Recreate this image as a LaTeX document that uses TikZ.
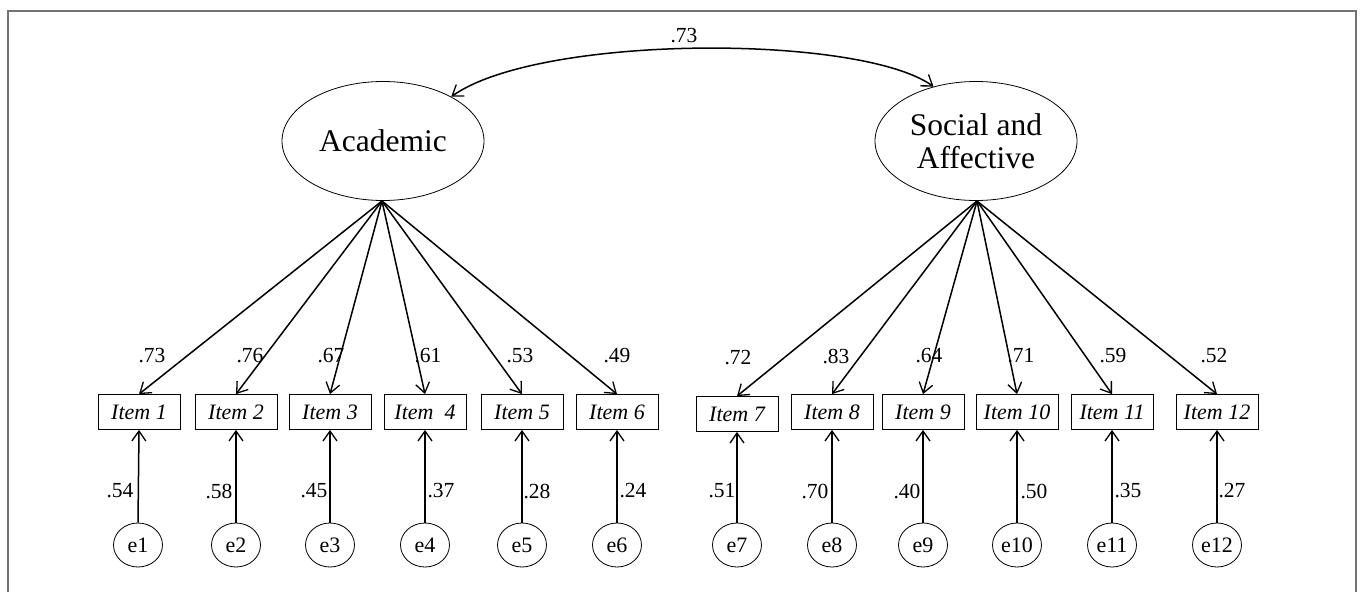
\documentclass[tikz,border=0pt]{standalone}
\usepackage{fontspec}
\setmainfont{Liberation Serif}
\usetikzlibrary{arrows.meta,shapes.geometric}
\tikzset{
  latent/.style={draw,ellipse,line width=0.8pt,minimum width=202pt,minimum height=119pt,inner sep=0pt,font=\fontsize{31.5}{33}\selectfont,align=center},
  itembox/.style={draw,rectangle,line width=0.8pt,minimum width=82pt,minimum height=35pt,inner sep=0pt,font=\fontsize{22}{24}\selectfont\itshape},
  errc/.style={draw,ellipse,line width=0.8pt,minimum width=49pt,minimum height=44pt,inner sep=0pt,font=\fontsize{22}{24}\selectfont},
  path/.style={line width=1.5pt,-{Straight Barb[length=10pt,width=14pt,line width=1.3pt]}},
  lab/.style={font=\fontsize{21.5}{24}\selectfont,inner sep=0pt},
  frame/.style={draw=black!55,line width=1.5pt}
}
\begin{document}
\begin{tikzpicture}[x=1pt,y=-1pt]
\useasboundingbox (0,0) rectangle (1360,592);
\draw[frame] (8,592) -- (8,11) -- (1356,11) -- (1356,592);

\node[latent] (A) at (383,141) {Academic};
\node[latent] (S) at (976,141) {Social and\\Affective};

\coordinate (As) at (382,201);
\coordinate (Ss) at (977,201);

% items
\foreach \n/\x/\y/\t in {1/139/412/Item 1,2/236/412/Item 2,3/330/412/Item 3,4/425/412/Item~~4,5/522/412/Item 5,6/617/412/Item 6,
  7/737/414/Item 7,8/832/412/Item 8,9/923/412/Item 9,10/1017/412/Item 10,11/1112/412/Item 11,12/1217/412/Item 12}{
  \node[itembox] (i\n) at (\x,\y) {\t};
}
\foreach \n/\x in {1/138,2/236,3/330,4/425,5/522,6/617,7/737,8/832,9/923,10/1017,11/1112,12/1217}{
  \node[errc] (e\n) at (\x,545) {e\n};
}

% loadings
\foreach \n in {1,...,6}{ \draw[path] (As) -- (i\n.north); }
\foreach \n in {7,...,12}{ \draw[path] (Ss) -- (i\n.north); }
% errors
\foreach \n in {1,...,12}{ \draw[path] (e\n.north) -- (i\n.south); }

% covariance
\draw[line width=1.5pt,{Straight Barb[length=10pt,width=14pt,line width=1.3pt]}-{Straight Barb[length=10pt,width=14pt,line width=1.3pt]}]
  (A.33) .. controls (540,34) and (860,34) .. (S.128);
\node[lab] (cov) at (684,36) {.73};

% loading labels
\node[lab] (l1) at (152,356) {.73};
\node[lab] (l2) at (250,356) {.76};
\node[lab] (l3) at (331,356) {.67};
\node[lab] (l4) at (428,356) {.61};
\node[lab] (l5) at (520,356) {.53};
\node[lab] (l6) at (617,356) {.49};
\node[lab] (l7) at (738,358) {.72};
\node[lab] (l8) at (836,356) {.83};
\node[lab] (l9) at (929,356) {.64};
\node[lab] (l10) at (1021,356) {.71};
\node[lab] (l11) at (1113,356) {.59};
\node[lab] (l12) at (1214,356) {.52};

% error labels
\node[lab] (r1) at (120,491) {.54};
\node[lab] (r2) at (219,491) {.58};
\node[lab] (r3) at (314,491) {.45};
\node[lab] (r4) at (441,491) {.37};
\node[lab] (r5) at (537,491) {.28};
\node[lab] (r6) at (633,491) {.24};
\node[lab] (r7) at (722,491) {.51};
\node[lab] (r8) at (815,491) {.70};
\node[lab] (r9) at (907,491) {.40};
\node[lab] (r10) at (1034,491) {.50};
\node[lab] (r11) at (1128,491) {.35};
\node[lab] (r12) at (1232,491) {.27};
\end{tikzpicture}
\end{document}
